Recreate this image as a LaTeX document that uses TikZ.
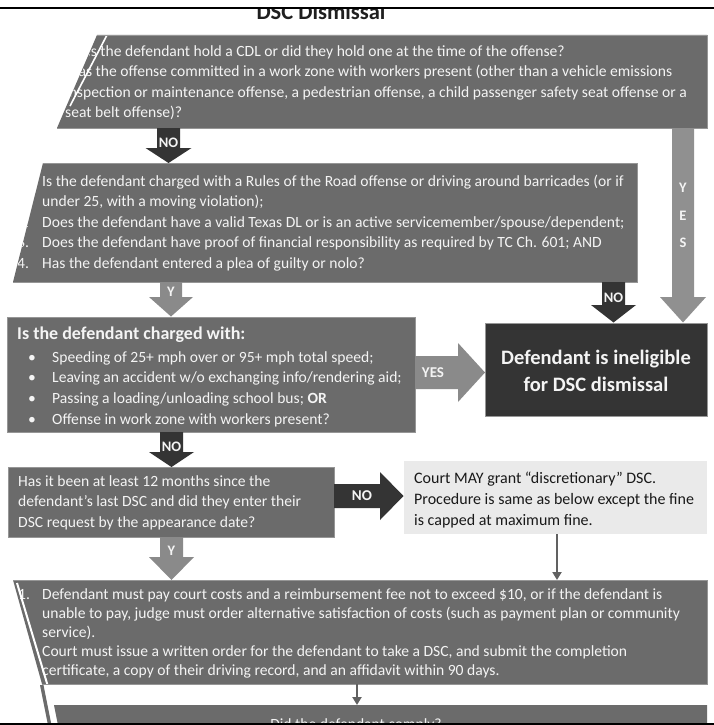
\documentclass[tikz,border=0pt]{standalone}
\usepackage{fontspec}
\setmainfont{Carlito}
\usetikzlibrary{arrows.meta}
\definecolor{boxg}{RGB}{107,107,107}
\definecolor{darkg}{RGB}{52,52,52}
\definecolor{arrg}{RGB}{138,138,138}
\definecolor{lightb}{RGB}{234,234,234}
\definecolor{txtw}{RGB}{244,244,244}
\definecolor{edgeg}{RGB}{150,150,150}
\begin{document}
\begin{tikzpicture}[x=1pt,y=-1pt,
  body/.style={anchor=base west, inner sep=0pt, text=txtw, font=\fontsize{15.6}{18}\selectfont},
  bodyk/.style={body, text=black!90, font=\fontsize{16}{18}\selectfont},
  head/.style={anchor=base west, inner sep=0pt, text=txtw, font=\bfseries\fontsize{18}{20}\selectfont},
  bigw/.style={anchor=base, inner sep=0pt, text=txtw, font=\bfseries\fontsize{20.5}{24}\selectfont},
  lbl/.style={inner sep=0pt, text=txtw, font=\bfseries\fontsize{14.5}{14.5}\selectfont},
  dot/.style={anchor=base, inner sep=0pt, text=txtw, font=\fontsize{15.6}{18}\selectfont},
  boxline/.style={draw=edgeg, line width=0.5pt},
  thinarr/.style={draw=black!62, line width=2.4pt, -{Triangle[width=9pt,length=8pt]}}
]
\useasboundingbox (0,0) rectangle (714,725);
\fill[white] (0,0) rectangle (714,725);

% title and top rule
\begin{scope}
  \clip (0,9) rectangle (714,40);
  \node[anchor=base, inner sep=0pt, text=black!88, font=\bfseries\fontsize{22.5}{24}\selectfont] (title) at (321,20) {DSC Dismissal};
\end{scope}
\fill[black] (0,6.8) rectangle (714,9.2);

% ---------- Box 1 ----------
\begin{scope}
  \clip (97,35) -- (707,35) -- (707,128) -- (57,128) -- cycle;
  \fill[boxg] (97,35) -- (707,35) -- (707,128) -- (57,128) -- cycle;
  \node[body] (b1a) at (65,56.5) {Does the defendant hold a CDL or did they hold one at the time of the offense?};
  \node[body] (b1b) at (65,77) {Was the offense committed in a work zone with workers present (other than a vehicle emissions};
  \node[body] (b1c) at (65,97) {inspection or maintenance offense, a pedestrian offense, a child passenger safety seat offense or a};
  \node[body] (b1d) at (65,117.5) {seat belt offense)?};
  \draw[white, line width=1.6pt] (107,35) -- (70,106);
\end{scope}
\draw[boxline] (97,35) -- (707,35) -- (707,128) -- (57,128);

% ---------- Box 2 ----------
\begin{scope}
  \clip (43,163) -- (637,163) -- (637,282) -- (13,282) -- cycle;
  \fill[boxg] (43,163) -- (637,163) -- (637,282) -- (13,282) -- cycle;
  \node[body] (b2n1) at (17,186.5) {1.};
  \node[body] (b2a) at (42,186.5) {Is the defendant charged with a Rules of the Road offense or driving around barricades (or if};
  \node[body] (b2b) at (42,206.5) {under 25, with a moving violation);};
  \node[body] (b2n2) at (17,227) {2.};
  \node[body] (b2c) at (42,227) {Does the defendant have a valid Texas DL or is an active servicemember/spouse/dependent;};
  \node[body] (b2n3) at (17,247.5) {3.};
  \node[body] (b2d) at (42,247.5) {Does the defendant have proof of financial responsibility as required by TC Ch. 601; AND};
  \node[body] (b2n4) at (17,268) {4.};
  \node[body] (b2e) at (42,268) {Has the defendant entered a plea of guilty or nolo?};
\end{scope}
\draw[boxline] (43,163) -- (637,163) -- (637,282) -- (13,282);

% ---------- Box 3 ----------
\fill[boxg, boxline] (7,317) rectangle (415,432);
\node[head] (b3h) at (17,339.5) {Is the defendant charged with:};
\node[dot] (d1) at (32,362) {•};
\node[body] (b3a) at (52,362) {Speeding of 25+ mph over or 95+ mph total speed;};
\node[dot] (d2) at (32,382.5) {•};
\node[body] (b3b) at (52,382.5) {Leaving an accident w/o exchanging info/rendering aid;};
\node[dot] (d3) at (32,403.5) {•};
\node[body] (b3c) at (52,403.5) {Passing a loading/unloading school bus; \textbf{OR}};
\node[dot] (d4) at (32,424.5) {•};
\node[body] (b3d) at (52,424.5) {Offense in work zone with workers present?};

% ---------- Ineligible ----------
\fill[darkg, boxline] (485,323) rectangle (707,416);
\node[bigw] (inel1) at (596,364) {Defendant is ineligible};
\node[bigw] (inel2) at (596,391) {for DSC dismissal};

% ---------- Box 4 ----------
\fill[boxg, boxline] (8,467) rectangle (334,537);
\node[body] (b4a) at (18,486) {Has it been at least 12 months since the};
\node[body] (b4b) at (18,506.5) {defendant’s last DSC and did they enter their};
\node[body] (b4c) at (18,527) {DSC request by the appearance date?};

% ---------- Discretionary ----------
\fill[lightb] (404,461) rectangle (707,534);
\node[bodyk] (dsa) at (414,483.5) {Court MAY grant “discretionary” DSC.};
\node[bodyk] (dsb) at (414,504.5) {Procedure is same as below except the fine};
\node[bodyk] (dsc) at (414,525) {is capped at maximum fine.};

% ---------- Box 5 ----------
\begin{scope}
  \clip (13,580) -- (707,580) -- (707,684) -- (42,684) -- cycle;
  \fill[boxg] (13,580) -- (707,580) -- (707,684) -- (42,684) -- cycle;
  \node[body] (b5n1) at (18,599.5) {1.};
  \node[body] (b5a) at (42,599.5) {Defendant must pay court costs and a reimbursement fee not to exceed \$10, or if the defendant is};
  \node[body] (b5b) at (42,618.5) {unable to pay, judge must order alternative satisfaction of costs (such as payment plan or community};
  \node[body] (b5c) at (42,637.5) {service).};
  \node[body] (b5n2) at (18,656.5) {2.};
  \node[body] (b5d) at (42,656.5) {Court must issue a written order for the defendant to take a DSC, and submit the completion};
  \node[body] (b5e) at (42,675.5) {certificate, a copy of their driving record, and an affidavit within 90 days.};
  \draw[white, line width=2pt] (17,583) -- (49,690);
\end{scope}
\draw[boxline] (13,580) -- (707,580) -- (707,684) -- (42,684);
\fill[boxg] (40,685) -- (43.5,685) -- (51.5,725) -- (48,725) -- cycle;

% ---------- Box 6 ----------
\begin{scope}
  \clip (0,0) rectangle (714,723);
  \fill[boxg] (54,705) -- (707,705) -- (707,725) -- (58,725) -- cycle;
  \node[anchor=base, inner sep=0pt, text=txtw, font=\fontsize{15.6}{18}\selectfont] (b6) at (356,729) {Did the defendant comply?};
\end{scope}
\fill[black] (0,723) rectangle (714,725);

% ---------- Block arrows ----------
% NO: box1 -> box2
\fill[darkg] (157,128) -- (180,128) -- (180,148) -- (191.5,148) -- (168.5,163) -- (145.5,148) -- (157,148) -- cycle;
\node[lbl] (lnoA) at (168.5,143) {NO};
% Y: box2 -> box3
\fill[arrg] (160,282) -- (182,282) -- (182,297) -- (193,297) -- (171,316.5) -- (149,297) -- (160,297) -- cycle;
\node[lbl] (lyB) at (171,292) {Y};
% NO: box2 -> ineligible
\fill[darkg] (602,282) -- (625,282) -- (625,305) -- (636,305) -- (613.5,322.5) -- (591,305) -- (602,305) -- cycle;
\node[lbl] (lnoC) at (613.5,298) {NO};
% YES: box1 -> ineligible (vertical)
\fill[arrg!95!white] (672,128) -- (694,128) -- (694,297) -- (706,297) -- (683,322.5) -- (660,297) -- (672,297) -- cycle;
\node[lbl] (ly1) at (683,188) {Y};
\node[lbl] (le1) at (683,216) {E};
\node[lbl] (ls1) at (683,243) {S};
% YES: box3 -> ineligible (horizontal)
\fill[arrg] (415,356) -- (458,356) -- (458,343) -- (485,372.5) -- (458,402) -- (458,389) -- (415,389) -- cycle;
\node[lbl, font=\bfseries\fontsize{15}{15}\selectfont] (lyesE) at (433,372.5) {YES};
% NO: box3 -> box4
\fill[darkg] (160,432) -- (183,432) -- (183,452) -- (194,452) -- (171.5,467) -- (149,452) -- (160,452) -- cycle;
\node[lbl] (lnoF) at (171.5,447) {NO};
% NO: box4 -> discretionary
\fill[darkg] (334,484) -- (380,484) -- (380,472) -- (403.5,496) -- (380,520) -- (380,508) -- (334,508) -- cycle;
\node[lbl, font=\bfseries\fontsize{15}{15}\selectfont] (lnoG) at (362,496) {NO};
% Y: box4 -> box5
\fill[arrg] (160,537) -- (183,537) -- (183,557) -- (194,557) -- (171.5,580) -- (149,557) -- (160,557) -- cycle;
\node[lbl] (lyH) at (171.5,551) {Y};

% thin arrows
\coordinate (dsbot) at (557,534);
\coordinate (b5top) at (557,580);
\draw[thinarr] (dsbot) -- (b5top);
\coordinate (b5bot) at (357,684);
\coordinate (b6top) at (357,705);
\draw[thinarr] (b5bot) -- (b6top);
\end{tikzpicture}
\end{document}
